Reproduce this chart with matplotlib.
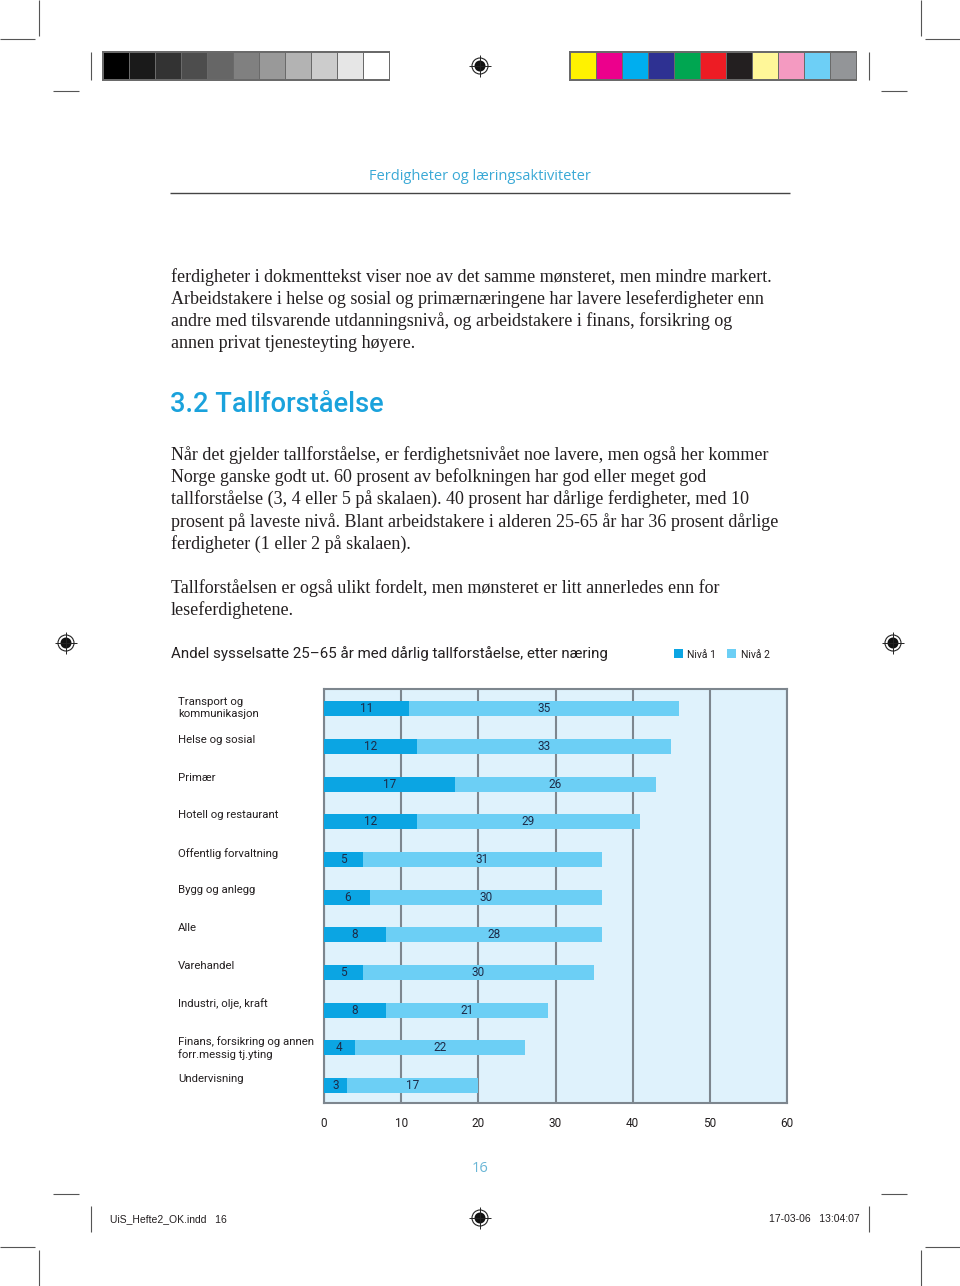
import matplotlib
matplotlib.use("Agg")
import matplotlib.pyplot as plt
import matplotlib.transforms as mtransforms
from matplotlib.patches import Rectangle, Circle
import numpy as np

# ---------------- data ----------------
categories = [
    "Transport og\nkommunikasjon",
    "Helse og sosial",
    "Primær",
    "Hotell og restaurant",
    "Offentlig forvaltning",
    "Bygg og anlegg",
    "Alle",
    "Varehandel",
    "Industri, olje, kraft",
    "Finans, forsikring og annen\nforr.messig tj.yting",
    "Undervisning",
]
niva1 = [11, 12, 17, 12, 5, 6, 8, 5, 8, 4, 3]
niva2 = [35, 33, 26, 29, 31, 30, 28, 30, 21, 22, 17]
series_names = ["Nivå 1", "Nivå 2"]
xticks = [0, 10, 20, 30, 40, 50, 60]

chart_title = "Andel sysselsatte 25\u201365 år med dårlig tallforståelse, etter næring"
header = "Ferdigheter og læringsaktiviteter"
heading = "3.2 Tallforståelse"
para1 = [
    "ferdigheter i dokmenttekst viser noe av det samme mønsteret, men mindre markert.",
    "Arbeidstakere i helse og sosial og primærnæringene har lavere leseferdigheter enn",
    "andre med tilsvarende utdanningsnivå, og arbeidstakere i finans, forsikring og",
    "annen privat tjenesteyting høyere.",
]
para2 = [
    "Når det gjelder tallforståelse, er ferdighetsnivået noe lavere, men også her kommer",
    "Norge ganske godt ut. 60 prosent av befolkningen har god eller meget god",
    "tallforståelse (3, 4 eller 5 på skalaen). 40 prosent har dårlige ferdigheter, med 10",
    "prosent på laveste nivå. Blant arbeidstakere i alderen 25-65 år har 36 prosent dårlige",
    "ferdigheter (1 eller 2 på skalaen).",
]
para3 = [
    "Tallforståelsen er også ulikt fordelt, men mønsteret er litt annerledes enn for",
    "leseferdighetene.",
]
page_number = "16"
footer_left = "UiS_Hefte2_OK.indd   16"
footer_right = "17-03-06   13:04:07"

gray_swatches = ["#000000", "#1a1a1a", "#333333", "#4d4d4d", "#666666", "#808080",
                 "#999999", "#b3b3b3", "#cccccc", "#e6e6e6", "#ffffff"]
color_swatches = ["#fff200", "#ec008c", "#00aeef", "#2e3192", "#00a651", "#ed1c24",
                  "#231f20", "#fff799", "#f49ac1", "#6dcff6", "#939598"]

C1 = "#0ba5e3"
C2 = "#6ccff5"
BG = "#dff2fc"
GRID = "#7d868e"
BAR_TXT = "#1d2b48"
BLUE_TXT = "#1aa2dc"

W, H = 960, 1286
fig = plt.figure(figsize=(W / 100, H / 100), dpi=100)
fig.patch.set_facecolor("white")

# page overlay axes in pixel coordinates
pg = fig.add_axes([0, 0, 1, 1])
pg.set_xlim(0, W)
pg.set_ylim(H, 0)
pg.axis("off")

def line(x0, y0, x1, y1, color="#555555", lw=0.8):
    pg.plot([x0, x1], [y0, y1], color=color, lw=lw, solid_capstyle="butt")

# crop marks
for (x0, y0, x1, y1) in [(39, 0, 39, 36), (0, 39, 35, 39), (921, 0, 921, 36), (925, 39, 960, 39),
                         (53, 91, 79, 91), (881, 91, 907, 91),
                         (91, 52, 91, 80), (869, 52, 869, 80),
                         (53, 1194, 79, 1194), (881, 1194, 907, 1194),
                         (91, 1206, 91, 1232), (869, 1206, 869, 1232),
                         (0, 1247, 35, 1247), (925, 1247, 960, 1247),
                         (39, 1250, 39, 1286), (921, 1250, 921, 1286)]:
    line(x0, y0, x1, y1)

# swatch bars
def swatches(x0, y0, colors, w=26, h=28):
    pg.add_patch(Rectangle((x0 - 1, y0 - 1), w * len(colors) + 2, h + 2,
                           facecolor="#6a6a6a", edgecolor="none"))
    for i, c in enumerate(colors):
        pg.add_patch(Rectangle((x0 + i * w + 1, y0 + 1), w - 1.5, h - 2,
                               facecolor=c, edgecolor="none"))

swatches(103, 52, gray_swatches)
swatches(570, 52, color_swatches)

# registration marks
def reg(cx, cy):
    pg.add_patch(Circle((cx, cy), 8, facecolor="none", edgecolor="#222222", lw=0.8))
    pg.add_patch(Circle((cx, cy), 5.5, facecolor="#111111", edgecolor="none"))
    line(cx - 11, cy, cx + 11, cy, color="#222222", lw=0.7)
    line(cx, cy - 11, cx, cy + 11, color="#222222", lw=0.7)

for c in [(480, 66), (480, 1218), (66, 643), (893, 643)]:
    reg(*c)

# header
pg.text(480, 177, header, ha="center", va="center", fontsize=10.5,
        color="#3aa9d6", family="Open Sans")
line(170, 193, 790, 193, color="#444444", lw=1.0)

serif = "Liberation Serif"
fs_body = 13.0
for i, t in enumerate(para1):
    pg.text(171, 277 + 22.2 * i, t, ha="left", va="center", fontsize=fs_body,
            family=serif, color="#231f20")

pg.text(170, 405, heading, ha="left", va="center", fontsize=19.6,
        family="Roboto", weight="medium", color=BLUE_TXT)

for i, t in enumerate(para2):
    pg.text(171, 455 + 22.2 * i, t, ha="left", va="center", fontsize=fs_body,
            family=serif, color="#231f20")
for i, t in enumerate(para3):
    pg.text(171, 588 + 22.2 * i, t, ha="left", va="center", fontsize=fs_body,
            family=serif, color="#231f20")

# chart title and legend
pg.text(171, 654, chart_title, ha="left", va="center", fontsize=10.9,
        family="Roboto", color="#231f20")
for (sx, tx), name, col in zip([(674, 687), (727, 741)], series_names, [C1, C2]):
    pg.add_patch(Rectangle((sx, 649), 9, 9, facecolor=col, edgecolor="none"))
    pg.text(tx, 655, name, ha="left", va="center", fontsize=7.5,
            family="Roboto", color="#231f20")

# page number & footer
pg.text(480, 1168, page_number, ha="center", va="center", fontsize=10.5,
        family="Open Sans", color="#6ab6d6")
pg.text(110, 1219, footer_left, ha="left", va="center", fontsize=7.5,
        family="Liberation Sans", color="#231f20")
pg.text(860, 1219, footer_right, ha="right", va="center", fontsize=7.5,
        family="Liberation Sans", color="#231f20")

# ---------------- chart ----------------
L, R, T, B = 324, 787, 689, 1103
ax = fig.add_axes([L / W, 1 - B / H, (R - L) / W, (B - T) / H])
ax.set_facecolor(BG)
ypos = np.arange(len(categories))
ax.barh(ypos + 0.03, niva1, height=0.4, color=C1, zorder=3)
ax.barh(ypos + 0.03, niva2, left=niva1, height=0.4, color=C2, zorder=3)
for y, a, b in zip(ypos + 0.03, niva1, niva2):
    ax.text(a / 2, y, str(a), ha="center", va="center", fontsize=8.5,
            family="Roboto", color=BAR_TXT, zorder=4)
    ax.text(a + b / 2, y, str(b), ha="center", va="center", fontsize=8.5,
            family="Roboto", color=BAR_TXT, zorder=4)

ax.set_xlim(0, 60)
ax.set_ylim(len(categories) - 0.5, -0.5)
ax.set_xticks(xticks)
ax.set_xticklabels([str(v) for v in xticks], family="Roboto", fontsize=8.5, color="#231f20")
ax.tick_params(axis="x", length=0, pad=10)
ax.set_yticks([])
ax.grid(axis="x", color=GRID, lw=1.5, zorder=1)
ax.set_axisbelow(True)
for s in ax.spines.values():
    s.set_color(GRID)
    s.set_linewidth(1.5)

tr = mtransforms.blended_transform_factory(ax.transAxes, ax.transData)
for y, lab in zip(ypos, categories):
    ax.text((178 - L) / (R - L), y - 0.28, lab, transform=tr, ha="left", va="top",
            fontsize=8.2, family="Roboto", color="#231f20", linespacing=1.25, clip_on=False)

fig.savefig("out.png", dpi=100, facecolor="white")
